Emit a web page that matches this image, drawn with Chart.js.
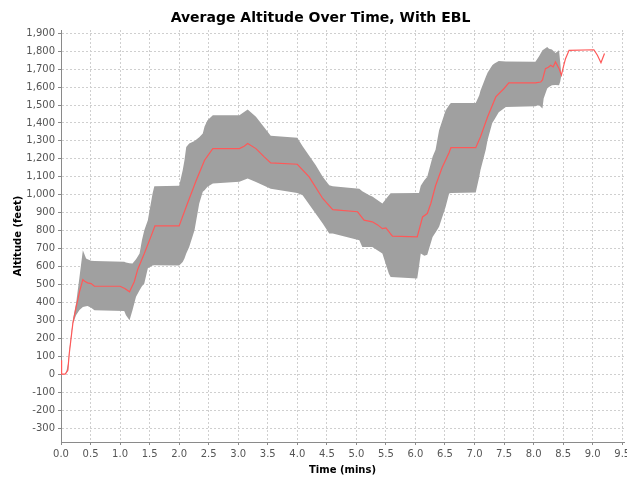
<!DOCTYPE html>
<html>
<head>
<meta charset="utf-8">
<script src="https://cdn.jsdelivr.net/npm/chart.js@4"></script>
<style>
  html, body { margin: 0; padding: 0; background: #fff; }
  #wrap { width: 627px; height: 479px; }
</style>
</head>
<body>
<div id="wrap"><canvas id="c" width="627" height="479"></canvas></div>
<script>
// Mean altitude (feet) against time (mins)
const meanTime = [0.00, 0.01, 0.07, 0.115, 0.14, 0.20, 0.257, 0.313, 0.37, 0.40, 0.45, 0.51, 0.566, 1.00, 1.08, 1.16, 1.24, 1.30, 1.41, 1.52, 1.59, 2.00, 2.14, 2.29, 2.43, 2.57, 3.02, 3.10, 3.16, 3.30, 3.44, 3.55, 4.00, 4.20, 4.43, 4.60, 5.02, 5.13, 5.27, 5.36, 5.44, 5.50, 5.61, 6.03, 6.12, 6.20, 6.26, 6.34, 6.45, 6.57, 6.60, 7.02, 7.10, 7.22, 7.36, 7.50, 7.58, 8.03, 8.12, 8.15, 8.20, 8.25, 8.29, 8.33, 8.37, 8.43, 8.47, 8.51, 8.54, 8.60, 9.02, 9.08, 9.14, 9.20];
const meanAltitude = [78, 0, 0, 22, 115, 282, 375, 459, 527, 518, 509, 505, 490, 490, 478, 459, 515, 585, 672, 765, 826, 826, 951, 1081, 1192, 1257, 1257, 1270, 1285, 1257, 1211, 1177, 1170, 1099, 979, 917, 905, 858, 849, 832, 811, 815, 769, 765, 876, 895, 951, 1050, 1150, 1235, 1262, 1262, 1322, 1433, 1545, 1592, 1623, 1623, 1628, 1640, 1703, 1710, 1721, 1712, 1740, 1703, 1666, 1721, 1758, 1805, 1808, 1777, 1736, 1787];

// Error band (upper / lower limits) against time (mins)
const bandTime = [0.00, 0.08, 0.12, 0.14, 0.20, 0.257, 0.313, 0.37, 0.425, 0.45, 0.51, 0.566, 1.07, 1.10, 1.16, 1.21, 1.27, 1.33, 1.37, 1.41, 1.47, 1.55, 1.58, 2.00, 2.06, 2.09, 2.12, 2.17, 2.26, 2.34, 2.40, 2.43, 2.48, 2.57, 3.02, 3.16, 3.30, 3.55, 4.00, 4.09, 4.31, 4.43, 4.54, 4.60, 5.05, 5.10, 5.22, 5.27, 5.44, 5.55, 5.58, 6.03, 6.06, 6.09, 6.15, 6.20, 6.29, 6.34, 6.40, 6.51, 6.57, 6.60, 7.02, 7.08, 7.10, 7.19, 7.22, 7.30, 7.33, 7.41, 7.53, 8.03, 8.09, 8.15, 8.17, 8.23, 8.26, 8.31, 8.37, 8.43, 8.45, 8.47];
const bandUpper = [0, 0, 60, 130, 300, 400, 542, 691, 644, 640, 632, 630, 626, 622, 618, 617, 640, 672, 746, 802, 858, 1007, 1047, 1050, 1136, 1192, 1266, 1285, 1300, 1320, 1341, 1380, 1415, 1443, 1443, 1475, 1434, 1328, 1318, 1270, 1165, 1100, 1053, 1047, 1034, 1020, 997, 990, 951, 997, 1008, 1010, 1010, 1050, 1081, 1100, 1211, 1250, 1359, 1470, 1500, 1511, 1511, 1554, 1580, 1656, 1680, 1721, 1730, 1745, 1743, 1741, 1770, 1805, 1810, 1823, 1814, 1810, 1790, 1805, 1740, 1670];
const bandLower = [0, 0, 20, 110, 282, 330, 357, 375, 379, 380, 370, 356, 352, 329, 301, 356, 431, 468, 490, 505, 590, 605, 607, 605, 625, 644, 672, 709, 802, 951, 1016, 1025, 1045, 1062, 1072, 1090, 1071, 1033, 1010, 997, 895, 840, 784, 784, 747, 709, 709, 709, 672, 560, 542, 533, 600, 672, 660, 665, 765, 790, 821, 932, 1007, 1010, 1012, 1100, 1136, 1250, 1304, 1400, 1415, 1460, 1489, 1493, 1500, 1480, 1536, 1592, 1600, 1610, 1612, 1610, 1630, 1666];

// Axis ranges and tick positions
const timeRange = [0, 9.53];
const altitudeRange = [-378, 1918];
const timeTicks = [0, 0.5, 1, 1.5, 2, 2.5, 3, 3.5, 4, 4.5, 5, 5.5, 6, 6.5, 7, 7.5, 8, 8.5, 9, 9.5];
const altitudeTicks = [-300, -200, -100, 0, 100, 200, 300, 400, 500, 600, 700, 800, 900, 1000, 1100, 1200, 1300, 1400, 1500, 1600, 1700, 1800, 1900];

const titleText = 'Average Altitude Over Time, With EBL';
const xTitle = 'Time (mins)';
const yTitle = 'Altitude (feet)';

const toPoints = (xs, ys) => xs.map((x, i) => ({ x: x, y: ys[i] }));

// Draws the chart heading above the plot
const headingPlugin = {
  id: 'heading',
  afterDraw(chart, args, opts) {
    const ctx = chart.ctx;
    ctx.save();
    ctx.font = opts.font;
    ctx.fillStyle = opts.color;
    ctx.textAlign = 'center';
    ctx.textBaseline = 'alphabetic';
    ctx.fillText(opts.text, opts.x, opts.y);
    ctx.restore();
  }
};

const tickFont = { family: '"DejaVu Sans", sans-serif', size: 10 };
const axisTitleFont = { family: '"DejaVu Sans", sans-serif', size: 10, weight: 'bold' };

new Chart(document.getElementById('c'), {
  type: 'line',
  data: {
    datasets: [
      {
        label: 'Mean',
        data: toPoints(meanTime, meanAltitude),
        borderColor: 'rgb(255, 88, 88)',
        borderWidth: 1.2,
        pointRadius: 0,
        tension: 0,
        fill: false
      },
      {
        label: 'Upper',
        data: toPoints(bandTime, bandUpper),
        borderWidth: 0,
        borderColor: 'rgba(0,0,0,0)',
        backgroundColor: 'rgb(160, 160, 160)',
        pointRadius: 0,
        tension: 0,
        fill: '+1'
      },
      {
        label: 'Lower',
        data: toPoints(bandTime, bandLower),
        borderWidth: 0,
        borderColor: 'rgba(0,0,0,0)',
        pointRadius: 0,
        tension: 0,
        fill: false
      }
    ]
  },
  options: {
    responsive: false,
    animation: false,
    devicePixelRatio: 1,
    layout: { padding: { left: 0, right: 3, top: 30, bottom: 0 } },
    plugins: {
      legend: { display: false },
      tooltip: { enabled: false },
      heading: {
        text: titleText,
        font: 'bold 14px "DejaVu Sans", sans-serif',
        color: '#000',
        x: 320.5,
        y: 22
      }
    },
    scales: {
      x: {
        type: 'linear',
        min: timeRange[0],
        max: timeRange[1],
        afterBuildTicks: s => { s.ticks = timeTicks.map(v => ({ value: v })); },
        ticks: {
          autoSkip: false,
          maxRotation: 0,
          padding: 3,
          color: '#555',
          font: tickFont,
          callback: v => Number(v).toFixed(1)
        },
        grid: { color: '#cfcfcf', lineWidth: 1, tickColor: '#8a8a8a', tickLength: 3 },
        border: { color: '#8a8a8a', width: 1, dash: [2, 2] },
        title: { display: true, text: xTitle, color: '#000', font: axisTitleFont, padding: { top: 0, bottom: 3 } },
        afterFit: s => { s.height = 37; s.paddingLeft = 0; s.paddingRight = 0; }
      },
      y: {
        type: 'linear',
        min: altitudeRange[0],
        max: altitudeRange[1],
        afterBuildTicks: s => { s.ticks = altitudeTicks.map(v => ({ value: v })); },
        ticks: {
          autoSkip: false,
          padding: 3,
          color: '#555',
          font: tickFont,
          callback: v => Math.round(v).toLocaleString('en-US')
        },
        grid: { color: '#cfcfcf', lineWidth: 1, tickColor: '#8a8a8a', tickLength: 3 },
        border: { color: '#8a8a8a', width: 1, dash: [2, 2] },
        title: { display: true, text: yTitle, color: '#000', font: axisTitleFont, padding: { top: 12, bottom: 0 } },
        afterFit: s => { s.width = 61; s.paddingTop = 0; s.paddingBottom = 0; }
      }
    }
  },
  plugins: [headingPlugin]
});
</script>
</body>
</html>
